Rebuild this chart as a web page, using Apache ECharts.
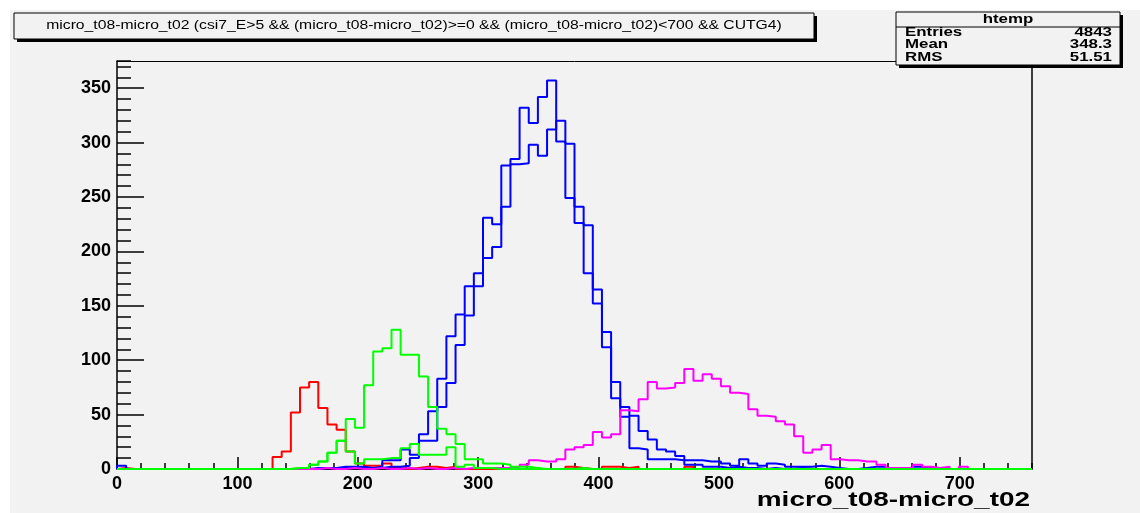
<!DOCTYPE html>
<html>
<head>
<meta charset="utf-8">
<script src="https://cdn.jsdelivr.net/npm/echarts@6/dist/echarts.min.js"></script>
<style>
  html, body { margin: 0; padding: 0; background: #ffffff; }
  #chart { width: 1140px; height: 513px; }
</style>
</head>
<body>
<div id="chart"></div>
<script>
// Histogram binning of micro_t08-micro_t02 (100 bins over 0..760)
const xMin = 0;
const xMax = 760;
const binWidth = 7.6;
const yMax = 375;

// Bin contents, one entry per bin (bin 0 starts at xMin)
const redCounts = [
  1,0,0,0,0,0,0,0,0,0, 0,0,0,0,0,0,0,11,16,52,
  75,80,56,41,36,16,5,3,3,5, 1,0,1,2,2,1,2,0,0,0,
  0,0,0,0,0,0,0,0,0,2, 1,0,0,2,2,1,2,0,0,0,
  0,0,2,0,0,0,0,0,0,0, 0,0,0,0,0,0,0,0,0,0,
  0,0,0,0,0,0,0,0,0,0, 0,0,0,0,0,0,0,0,0,0
];
const blueCountsA = [
  3,0,0,0,0,0,0,0,0,0, 0,0,0,0,0,0,0,0,0,0,
  0,1,1,1,2,2,2,1,2,8, 8,18,13,32,53,83,122,142,168,180,
  231,225,279,285,332,318,342,357,301,249, 226,180,152,112,65,48,19,18,9,9,
  9,8,4,4,2,2,1,2,1,1, 0,1,0,0,1,0,0,0,0,0,
  0,0,0,0,0,0,0,0,0,0, 0,0,0,0,0,0,0,0,0,0
];
const blueCountsB = [
  0,0,0,0,0,0,0,0,0,0, 0,0,0,0,0,0,0,0,0,0,
  0,0,1,1,1,1,1,1,1,2, 2,3,10,26,26,57,79,114,141,168,
  194,204,241,280,281,298,288,312,320,299, 241,224,165,126,80,57,49,35,27,18,
  16,12,8,8,7,7,5,3,9,5, 3,5,4,2,2,2,3,2,1,0,
  0,1,2,2,0,1,0,2,1,0, 0,0,0,0,0,0,0,0,0,0
];
const magentaCounts = [
  0,0,0,0,0,0,0,0,0,0, 0,0,0,0,0,0,0,0,0,0,
  0,0,1,0,0,1,0,0,1,0, 0,1,0,1,0,0,1,0,1,1,
  1,1,1,2,4,8,7,7,9,18, 20,22,34,29,32,54,53,64,80,74,
  75,79,92,81,87,83,76,70,69,55, 49,48,44,41,30,15,18,22,9,8,
  8,7,7,4,1,1,1,4,2,1, 2,0,2,0,0,0,0,0,0,0
];
const greenCountsA = [
  0,0,0,0,0,0,0,0,0,0, 0,0,0,0,0,0,0,0,0,1,
  1,4,7,15,26,46,38,77,108,111, 128,105,105,85,57,37,32,23,9,9,
  5,5,4,2,2,1,0,0,0,0, 1,0,0,0,0,0,0,0,0,0,
  0,0,0,0,0,0,0,0,0,0, 0,0,0,0,0,0,0,0,0,0,
  0,0,0,0,0,0,0,0,0,0, 0,0,0,0,0,0,0,0,0,0
];
const greenCountsB = [
  0,0,0,0,0,0,0,0,0,0, 0,0,0,0,0,0,0,0,0,1,
  1,4,7,15,26,16,5,9,9,10, 10,19,23,13,13,13,20,2,4,1,
  1,0,0,0,0,0,0,0,0,0, 0,0,0,0,0,0,0,0,0,0,
  0,0,0,0,0,0,0,0,0,0, 0,0,0,0,0,0,0,0,0,0,
  0,0,0,0,0,0,0,0,0,0, 0,0,0,0,0,0,0,0,0,0
];

const titleText = 'micro_t08-micro_t02 (csi7_E>5 && (micro_t08-micro_t02)>=0 && (micro_t08-micro_t02)<700 && CUTG4)';
const statsName = 'htemp';
const statsRows = [['Entries', '4843'], ['Mean', '348.3'], ['RMS', '51.51']];
const xTitle = 'micro_t08-micro_t02';

// Turn bin contents into an outline: rise at the low edge, step at each bin edge, fall at the high edge
function outline(counts) {
  const pts = [[xMin, 0]];
  counts.forEach((c, i) => pts.push([xMin + i * binWidth, c]));
  pts.push([xMax, counts[counts.length - 1]]);
  pts.push([xMax, 0]);
  return pts;
}

function histSeries(counts, color) {
  return {
    type: 'line', step: 'end', data: outline(counts),
    xAxisIndex: 0, yAxisIndex: 0,
    showSymbol: false, symbol: 'none', silent: true,
    lineStyle: { color: color, width: 2 }, clip: true
  };
}

const FONT = '"Liberation Sans", Arial, sans-serif';
const bg = '#f2f2f2';

const chart = echarts.init(document.getElementById('chart'), null, { renderer: 'canvas' });

const gridBox = { left: 117, top: 61, right: 108, bottom: 44 };

// Text drawn horizontally widened by the given factor
function wideText(x, y, text, font, align, widen) {
  return { type: 'text', z: 12, silent: true, x: x, y: y, scaleX: widen,
    style: { text: text, font: font, fill: '#000', align: align, verticalAlign: 'middle' } };
}

chart.setOption({
  animation: false,
  backgroundColor: '#ffffff',
  grid: Object.assign({ containLabel: false, show: false }, gridBox),
  xAxis: [
    { // major ticks and labels
      type: 'value', min: xMin, max: xMax, interval: 100, position: 'bottom',
      axisLine: { show: true, onZero: false, lineStyle: { color: '#000', width: 1 } },
      axisTick: { show: true, inside: true, length: 12, lineStyle: { color: '#000', width: 1.5 } },
      axisLabel: { show: true, showMaxLabel: false, margin: 6, color: '#000',
        fontFamily: FONT, fontWeight: 'bold', fontSize: 18 },
      splitLine: { show: false }
    },
    { // minor ticks
      type: 'value', min: xMin, max: xMax, interval: 20, position: 'bottom',
      axisLine: { show: false },
      axisTick: { show: true, inside: true, length: 6, lineStyle: { color: '#000', width: 1.5 } },
      axisLabel: { show: false }, splitLine: { show: false }
    },
    { // upper frame edge
      type: 'value', min: xMin, max: xMax, position: 'top',
      axisLine: { show: true, onZero: false, lineStyle: { color: '#000', width: 1 } },
      axisTick: { show: false }, axisLabel: { show: false }, splitLine: { show: false }
    }
  ],
  yAxis: [
    {
      type: 'value', min: 0, max: yMax, interval: 50, position: 'left',
      axisLine: { show: true, onZero: false, lineStyle: { color: '#000', width: 1.5 } },
      axisTick: { show: true, inside: true, length: 27, lineStyle: { color: '#000', width: 1.5 } },
      axisLabel: { show: true, showMaxLabel: false, margin: 6, color: '#000',
        fontFamily: FONT, fontWeight: 'bold', fontSize: 18 },
      splitLine: { show: false }
    },
    {
      type: 'value', min: 0, max: yMax, interval: 10, position: 'left',
      axisLine: { show: false },
      axisTick: { show: true, inside: true, length: 14, lineStyle: { color: '#000', width: 1.5 } },
      axisLabel: { show: false }, splitLine: { show: false }
    },
    {
      type: 'value', min: 0, max: yMax, position: 'right',
      axisLine: { show: true, onZero: false, lineStyle: { color: '#000', width: 1.5 } },
      axisTick: { show: false }, axisLabel: { show: false }, splitLine: { show: false }
    }
  ],
  series: [
    histSeries(redCounts, '#ff0000'),
    histSeries(blueCountsA, '#0000ff'),
    histSeries(blueCountsB, '#0000ff'),
    histSeries(magentaCounts, '#ff00ff'),
    histSeries(greenCountsB, '#00ff00'),
    histSeries(greenCountsA, '#00ff00')
  ],
  graphic: [
    // canvas fill
    { type: 'rect', z: -10, silent: true, shape: { x: 10, y: 10, width: 1130, height: 503 }, style: { fill: bg } },
    // title pave with shadow
    { type: 'rect', z: 10, silent: true, shape: { x: 17, y: 16, width: 800, height: 26 }, style: { fill: '#000' } },
    { type: 'rect', z: 11, silent: true, shape: { x: 14, y: 13, width: 800, height: 26 },
      style: { fill: bg, stroke: '#000', lineWidth: 1 } },
    wideText(414, 26, titleText, '12px ' + FONT, 'center', 1.31),
    // statistics box with shadow
    { type: 'rect', z: 10, silent: true, shape: { x: 899, y: 15, width: 224, height: 53 }, style: { fill: '#000' } },
    { type: 'rect', z: 11, silent: true, shape: { x: 896, y: 12, width: 224, height: 53 },
      style: { fill: bg, stroke: '#000', lineWidth: 1 } },
    { type: 'line', z: 12, silent: true, shape: { x1: 896, y1: 27, x2: 1120, y2: 27 }, style: { stroke: '#000', lineWidth: 1 } },
    wideText(1008, 20, statsName, 'bold 12.5px ' + FONT, 'center', 1.35),
    ...statsRows.flatMap((r, i) => [
      wideText(905, 32.5 + i * 12.5, r[0], 'bold 12.5px ' + FONT, 'left', 1.35),
      wideText(1112, 32.5 + i * 12.5, r[1], 'bold 12.5px ' + FONT, 'right', 1.35)
    ]),
    // horizontal axis title
    wideText(1030, 500, xTitle, 'bold 21px ' + FONT, 'right', 1.33)
  ]
});
</script>
</body>
</html>
